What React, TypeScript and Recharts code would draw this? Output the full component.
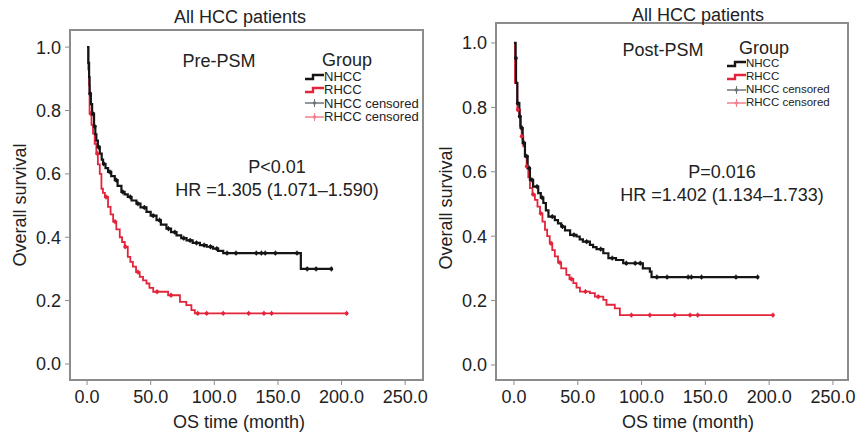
import { LineChart, Line, XAxis, YAxis, ReferenceArea } from 'recharts';

// Pre-PSM curves (time in months, survival after each step)
const preNhccTimes = [0, 1, 1.6, 2, 3, 4, 5.5, 6.5, 7.3, 8.5, 10, 11.5, 12.6, 14.5, 16.5, 19, 21.8, 24, 27, 29.5, 32, 35, 38.8, 42, 46.7, 50, 54.6, 58, 62.4, 66, 70.3, 74, 78.2, 83, 88.7, 94, 99, 103, 107, 168];
const preNhccSurv = [1.0, 0.95, 0.905, 0.853, 0.82, 0.79, 0.75, 0.725, 0.705, 0.685, 0.664, 0.645, 0.632, 0.618, 0.606, 0.593, 0.58, 0.562, 0.543, 0.535, 0.527, 0.516, 0.506, 0.494, 0.48, 0.468, 0.454, 0.44, 0.427, 0.416, 0.406, 0.397, 0.39, 0.382, 0.375, 0.37, 0.364, 0.357, 0.35, 0.3];
const preNhccCensor = [2.5, 4.5, 6, 9, 13, 18, 23, 28, 34, 40, 45, 52, 57, 64, 69, 76, 81, 86, 92, 97, 102, 110, 117, 133, 137, 140, 148, 165, 173, 180, 192];

const preRhccTimes = [0, 1, 1.6, 2, 3.5, 4.7, 6, 7.3, 8.5, 10, 11.3, 12.5, 14, 16.5, 18.5, 20.5, 23, 25.7, 27.5, 29.6, 32, 34, 36, 38.5, 41.4, 44, 46.7, 49, 52, 63.7, 73, 78, 82, 84.7];
const preRhccSurv = [1.0, 0.93, 0.88, 0.79, 0.755, 0.727, 0.695, 0.664, 0.63, 0.6, 0.553, 0.54, 0.527, 0.496, 0.472, 0.449, 0.425, 0.4, 0.385, 0.37, 0.338, 0.322, 0.307, 0.29, 0.275, 0.264, 0.254, 0.24, 0.228, 0.217, 0.196, 0.186, 0.17, 0.16];
const preRhccCensor = [3, 8, 15, 22, 30, 40, 55, 66, 87, 94, 107, 127, 139, 145, 204];

// Post-PSM curves
const postNhccTimes = [0, 1.3, 1.6, 2.6, 4.2, 5.2, 6.8, 8.6, 10.7, 12.5, 15, 19, 21, 23, 25, 27, 32, 34.5, 37, 40, 44, 49, 51.5, 54, 59.5, 62, 64.7, 70, 74, 80, 85.6, 101, 106.5, 107.8];
const postNhccSurv = [1.0, 0.953, 0.876, 0.813, 0.772, 0.736, 0.689, 0.648, 0.611, 0.575, 0.554, 0.534, 0.52, 0.503, 0.48, 0.461, 0.45, 0.44, 0.43, 0.418, 0.404, 0.399, 0.39, 0.383, 0.373, 0.366, 0.36, 0.347, 0.332, 0.326, 0.316, 0.3, 0.29, 0.273];
const postNhccCensor = [1.5, 3, 4.5, 6, 8, 10, 12, 14, 18, 22, 30, 38, 47, 57, 68, 77, 88, 95, 99, 112, 120, 136.5, 139, 147, 174, 191];

const postRhccTimes = [0, 0.8, 2.6, 4.7, 6, 7.3, 8.6, 9.9, 11.2, 12.5, 14.5, 16.4, 18.4, 20.4, 22.3, 24.3, 26, 28, 30, 32, 34.5, 37, 41, 43.5, 46.5, 49, 51.7, 59.5, 63.4, 70, 72.5, 79, 83];
const postRhccSurv = [1.0, 0.876, 0.793, 0.741, 0.71, 0.679, 0.648, 0.617, 0.583, 0.549, 0.53, 0.513, 0.492, 0.471, 0.445, 0.42, 0.4, 0.378, 0.357, 0.337, 0.318, 0.3, 0.28, 0.267, 0.254, 0.24, 0.228, 0.223, 0.212, 0.202, 0.187, 0.176, 0.155];
const postRhccCensor = [3, 6, 10, 15, 21, 29, 36, 45, 56, 66, 92, 106.5, 126, 138, 144, 203];

const xTicks = [0, 50, 100, 150, 200, 250];
const yTicks = [0, 0.2, 0.4, 0.6, 0.8, 1.0];
const groupLabels = ['NHCC', 'RHCC', 'NHCC censored', 'RHCC censored'];

const FONT = '"Liberation Sans", Arial, Helvetica, sans-serif';
const BLACK = '#151515';
const RED = '#e4243a';
const FRAME = '#8c8c8c';

interface Pt { t: number; s: number; c: boolean }

function buildCurve(times: number[], surv: number[], censor: number[]): Pt[] {
  const pts: Pt[] = times.map((t, i) => ({ t, s: surv[i], c: false }));
  censor.forEach(ct => {
    let idx = 0;
    for (let i = 0; i < times.length; i++) if (times[i] <= ct) idx = i;
    pts.push({ t: ct, s: surv[idx], c: true });
  });
  return pts.sort((a, b) => a.t - b.t);
}

const censorDot = (color: string) => (props: any) => {
  const { cx, cy, payload, index } = props;
  if (!payload || !payload.c) return <g key={index} />;
  return (
    <g key={index}>
      <line x1={cx} y1={cy - 2.5} x2={cx} y2={cy + 2.5} stroke={color} strokeWidth={1} />
      <circle cx={cx} cy={cy} r={1.9} fill={color} />
    </g>
  );
};

function LegendIcon({ kind, color }: { kind: 'step' | 'censor'; color: string }) {
  return (
    <svg width={19} height={10} style={{ display: 'block' }}>
      {kind === 'step' ? (
        <path d="M0 7 H8 V3 H19" stroke={color} strokeWidth={2.4} fill="none" />
      ) : (
        <g>
          <path d="M0 5 H19" stroke={color} strokeWidth={1.5} />
          <path d="M9.5 1 V9" stroke={color} strokeWidth={1} />
          <circle cx={9.5} cy={5} r={1.8} fill={color} />
        </g>
      )}
    </svg>
  );
}

interface Note { text: string; x: number; y: number; size?: number }

interface PanelProps {
  nhcc: Pt[];
  rhcc: Pt[];
  top: number;
  right: number;
  yAxisWidth: number;
  xDomain: [number, number];
  yDomain: [number, number];
  notes: Note[];
  yTitle: { x: number; y: number };
  legend: { x: number; y: number; rowH: number; size: number };
}

function Panel({ nhcc, rhcc, top, right, yAxisWidth, xDomain, yDomain, notes, yTitle, legend }: PanelProps) {
  const tickStyle = { fill: '#222', fontSize: 18, fontFamily: FONT };
  const legendRows = [
    { kind: 'step' as const, color: BLACK },
    { kind: 'step' as const, color: RED },
    { kind: 'censor' as const, color: '#6f747a' },
    { kind: 'censor' as const, color: '#f27f8c' },
  ];
  return (
    <div style={{ position: 'relative', width: 430, height: 434, fontFamily: FONT, color: '#222' }}>
      <LineChart width={430} height={434} data={nhcc} margin={{ top, right, bottom: 0, left: 0 }}>
        <XAxis
          dataKey="t"
          type="number"
          domain={xDomain}
          allowDataOverflow
          ticks={xTicks}
          tickFormatter={(v: number) => v.toFixed(1)}
          tick={tickStyle}
          tickSize={5}
          tickMargin={5}
          axisLine={false}
          tickLine={{ stroke: FRAME }}
          height={54}
        />
        <YAxis
          type="number"
          domain={yDomain}
          allowDataOverflow
          ticks={yTicks}
          tickFormatter={(v: number) => v.toFixed(1)}
          tick={tickStyle}
          tickSize={5}
          tickMargin={4}
          axisLine={false}
          tickLine={{ stroke: FRAME }}
          width={yAxisWidth}
        />
        <ReferenceArea
          x1={xDomain[0]} x2={xDomain[1]} y1={yDomain[0]} y2={yDomain[1]}
          fill="none" fillOpacity={0} stroke={FRAME} strokeWidth={2} ifOverflow="visible"
        />
        <Line data={rhcc} dataKey="s" type="stepAfter" stroke={RED} strokeWidth={1.8}
          dot={censorDot(RED)} activeDot={false} isAnimationActive={false} />
        <Line data={nhcc} dataKey="s" type="stepAfter" stroke={BLACK} strokeWidth={2.2}
          dot={censorDot(BLACK)} activeDot={false} isAnimationActive={false} />
      </LineChart>
      {notes.map(n => (
        <div key={n.text} style={{
          position: 'absolute', left: n.x, top: n.y, transform: 'translate(-50%, -50%)',
          whiteSpace: 'nowrap', fontSize: n.size ?? 18, lineHeight: 1,
        }}>{n.text}</div>
      ))}
      <div style={{
        position: 'absolute', left: yTitle.x, top: yTitle.y, whiteSpace: 'nowrap', fontSize: 18, lineHeight: 1,
        transform: 'translate(-50%, -50%) rotate(-90deg)',
      }}>Overall survival</div>
      <div style={{ position: 'absolute', left: legend.x, top: legend.y }}>
        {groupLabels.map((g, i) => (
          <div key={g} style={{
            display: 'flex', alignItems: 'center', height: legend.rowH,
            fontSize: legend.size, lineHeight: `${legend.rowH}px`,
          }}>
            <LegendIcon kind={legendRows[i].kind} color={legendRows[i].color} />
            <span>{g}</span>
          </div>
        ))}
      </div>
    </div>
  );
}

export default function App() {
  const preN = buildCurve(preNhccTimes, preNhccSurv, preNhccCensor);
  const preR = buildCurve(preRhccTimes, preRhccSurv, preRhccCensor);
  const postN = buildCurve(postNhccTimes, postNhccSurv, postNhccCensor);
  const postR = buildCurve(postRhccTimes, postRhccSurv, postRhccCensor);
  return (
    <div style={{ position: 'absolute', left: 0, top: 0, width: 860, height: 434, background: '#fff', display: 'flex' }}>
      <Panel
        nhcc={preN}
        rhcc={preR}
        top={30}
        right={7}
        yAxisWidth={70}
        xDomain={[-13.4, 264]}
        yDomain={[-0.0505, 1.054]}
        notes={[
          { text: 'All HCC patients', x: 240, y: 17 },
          { text: 'Pre-PSM', x: 219, y: 61 },
          { text: 'Group', x: 347, y: 60 },
          { text: 'P<0.01', x: 277, y: 167 },
          { text: 'HR =1.305 (1.071\u20131.590)', x: 277, y: 190 },
          { text: 'OS time (month)', x: 239, y: 422 },
        ]}
        yTitle={{ x: 20, y: 205 }}
        legend={{ x: 305, y: 70, rowH: 13.4, size: 13 }}
      />
      <Panel
        nhcc={postN}
        rhcc={postR}
        top={23}
        right={12}
        yAxisWidth={66}
        xDomain={[-14.1, 261.8]}
        yDomain={[-0.0466, 1.062]}
        notes={[
          { text: 'All HCC patients', x: 268, y: 15 },
          { text: 'Post-PSM', x: 233, y: 50 },
          { text: 'Group', x: 334, y: 48 },
          { text: 'P=0.016', x: 292, y: 172 },
          { text: 'HR =1.402 (1.134\u20131.733)', x: 292, y: 195 },
          { text: 'OS time (month)', x: 258, y: 422 },
        ]}
        yTitle={{ x: 16, y: 208 }}
        legend={{ x: 297, y: 57, rowH: 13, size: 11.5 }}
      />
    </div>
  );
}
